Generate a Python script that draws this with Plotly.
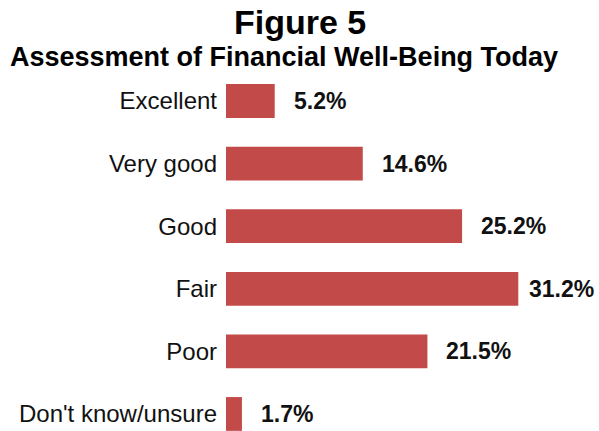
import plotly.graph_objects as go

categories = ["Excellent", "Very good", "Good", "Fair", "Poor", "Don't know/unsure"]
percentages = [5.2, 14.6, 25.2, 31.2, 21.5, 1.7]
value_labels = ["5.2%", "14.6%", "25.2%", "31.2%", "21.5%", "1.7%"]
label_gaps = [17, 17, 17, 9, 17, 17]

BAR_COLOR = "#C24B49"
FONT = "Liberation Sans, Arial, sans-serif"

fig = go.Figure(
    go.Bar(
        x=percentages,
        y=categories,
        orientation="h",
        marker=dict(color=BAR_COLOR, line=dict(width=0)),
        width=0.54,
        hoverinfo="skip",
    )
)

for cat, val, txt, gap in zip(categories, percentages, value_labels, label_gaps):
    fig.add_annotation(
        x=val, y=cat, text=f"<b>{txt}</b>", showarrow=False,
        xanchor="left", yanchor="middle", xshift=gap,
        font=dict(family=FONT, size=23, color="#111111"),
    )

fig.add_annotation(
    text="<b>Figure 5</b>", xref="paper", yref="paper",
    x=(300 - 226) / 356, y=1, yshift=48, showarrow=False,
    xanchor="center", yanchor="middle",
    font=dict(family=FONT, size=34, color="#000000"),
)
fig.add_annotation(
    text="<b>Assessment of Financial Well-Being Today</b>", xref="paper", yref="paper",
    x=(284 - 226) / 356, y=1, yshift=13, showarrow=False,
    xanchor="center", yanchor="middle",
    font=dict(family=FONT, size=27, color="#000000"),
)

fig.update_layout(
    width=599, height=431,
    margin=dict(l=226, r=17, t=70, b=0),
    paper_bgcolor="white", plot_bgcolor="white",
    showlegend=False,
    xaxis=dict(range=[0, 38], visible=False, fixedrange=True),
    yaxis=dict(
        type="category",
        range=[5.272, -0.495],
        showgrid=False, zeroline=False, showline=False,
        ticks="", ticklabelstandoff=8,
        tickfont=dict(family=FONT, size=24, color="#111111"),
        fixedrange=True,
    ),
)

fig.write_html("out.html", config={"displayModeBar": False})
